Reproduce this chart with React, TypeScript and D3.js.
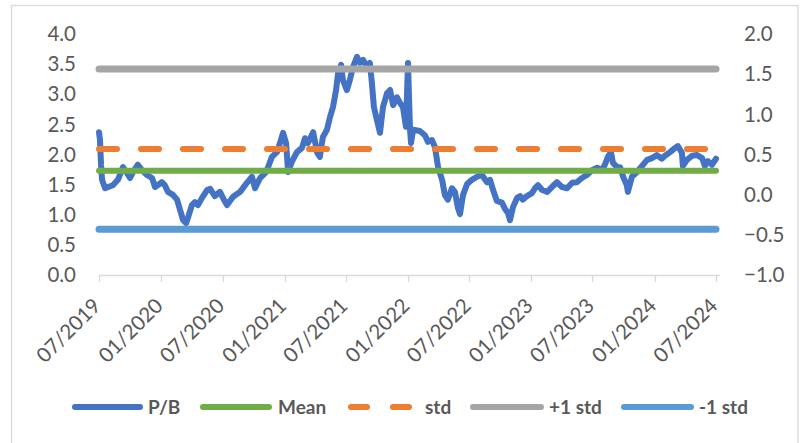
import React from 'react';
import * as d3 from 'd3';

const pbDates = [
  "2019-07-01","2019-07-04","2019-07-07","2019-07-10","2019-07-19","2019-07-28","2019-08-11","2019-08-26","2019-09-10","2019-09-22",
  "2019-10-01","2019-10-10","2019-10-24","2019-11-05","2019-11-20","2019-12-05","2019-12-14","2020-01-03","2020-01-12","2020-01-21",
  "2020-02-05","2020-02-17","2020-02-26","2020-03-06","2020-03-15","2020-03-21","2020-04-01","2020-04-10","2020-04-19","2020-05-01",
  "2020-05-16","2020-05-25","2020-06-08","2020-06-23","2020-07-05","2020-07-14","2020-08-01","2020-08-22","2020-09-11","2020-09-26",
  "2020-10-05","2020-10-20","2020-11-04","2020-11-12","2020-11-24","2020-12-09","2020-12-18","2020-12-27","2021-01-05","2021-01-11",
  "2021-01-22","2021-02-06","2021-02-21","2021-03-02","2021-03-11","2021-03-26","2021-04-07","2021-04-15","2021-04-24","2021-05-06",
  "2021-05-15","2021-05-24","2021-06-02","2021-06-08","2021-06-17","2021-06-22","2021-07-04","2021-07-13","2021-07-22","2021-08-03",
  "2021-08-12","2021-08-21","2021-09-02","2021-09-10","2021-09-16","2021-09-22","2021-10-01","2021-10-10","2021-10-19","2021-10-31",
  "2021-11-09","2021-11-18","2021-11-29","2021-12-08","2021-12-17","2021-12-26","2022-01-01","2022-01-07","2022-01-10","2022-01-16",
  "2022-02-05","2022-02-20","2022-03-01","2022-03-13","2022-03-22","2022-03-31","2022-04-12","2022-04-20","2022-04-29","2022-05-11",
  "2022-05-20","2022-05-29","2022-06-04","2022-06-13","2022-06-25","2022-07-09","2022-07-24","2022-08-08","2022-08-23","2022-09-01",
  "2022-09-10","2022-09-21","2022-10-06","2022-10-15","2022-10-24","2022-10-30","2022-11-08","2022-11-20","2022-11-29","2022-12-07",
  "2022-12-19","2023-01-03","2023-01-12","2023-01-21","2023-02-02","2023-02-17","2023-03-03","2023-03-18","2023-04-02","2023-04-17",
  "2023-05-02","2023-05-16","2023-05-31","2023-06-15","2023-06-30","2023-07-15","2023-07-29","2023-08-07","2023-08-16","2023-08-25",
  "2023-08-31","2023-09-12","2023-09-21","2023-09-30","2023-10-11","2023-10-14","2023-10-26","2023-11-10","2023-11-25","2023-12-10",
  "2023-12-24","2024-01-08","2024-01-23","2024-02-01","2024-02-16","2024-03-02","2024-03-10","2024-03-22","2024-03-25","2024-04-06",
  "2024-04-21","2024-05-06","2024-05-21","2024-05-29","2024-06-07","2024-06-19","2024-07-01"
];

const pbValues = [
  2.37,2.24,1.83,1.58,1.44,1.46,1.49,1.58,1.79,1.69,
  1.61,1.71,1.83,1.74,1.66,1.61,1.46,1.54,1.49,1.38,
  1.33,1.25,1.08,0.91,0.86,0.96,1.16,1.21,1.16,1.28,
  1.41,1.43,1.31,1.38,1.25,1.16,1.30,1.38,1.53,1.63,
  1.44,1.61,1.69,1.78,1.96,2.04,2.19,2.36,2.19,1.71,
  1.88,2.04,2.11,2.27,2.19,2.37,2.03,1.96,2.29,2.41,
  2.62,2.79,3.07,3.35,3.49,3.24,3.07,3.24,3.45,3.62,
  3.52,3.57,3.45,3.52,3.19,2.79,2.57,2.36,2.79,3.02,
  3.07,2.82,2.95,2.86,2.79,2.46,3.52,2.41,2.19,2.41,
  2.39,2.32,2.21,2.24,2.12,1.79,1.58,1.33,1.25,1.44,
  1.38,1.11,1.01,1.33,1.51,1.58,1.63,1.66,1.54,1.58,
  1.41,1.23,1.20,1.10,1.03,0.91,1.13,1.28,1.31,1.25,
  1.31,1.36,1.44,1.49,1.41,1.38,1.46,1.54,1.46,1.44,
  1.53,1.54,1.61,1.66,1.74,1.78,1.74,1.83,1.96,2.04,
  1.86,1.79,1.79,1.63,1.49,1.38,1.63,1.71,1.81,1.91,
  1.94,1.99,1.93,1.98,2.04,2.11,2.14,2.03,1.81,1.91,
  1.98,1.99,1.94,1.81,1.89,1.83,1.93
];

const leftTicks = [0, 0.5, 1, 1.5, 2, 2.5, 3, 3.5, 4];
const rightTicks = [-1, -0.5, 0, 0.5, 1, 1.5, 2];
const meanLevel = 1.73;      // primary axis
const stdLevel = 0.57;       // secondary axis
const plusStdLevel = 3.42;   // primary axis
const minusStdLevel = 0.76;  // primary axis
const seriesNames = ["P/B", "Mean", "std", "+1 std", "-1 std"];
const seriesColors = ["#4472C4", "#70AD47", "#ED7D31", "#A5A5A5", "#5B9BD5"];

export default function App() {
  const W = 806, H = 443;
  const font = "Lato, 'Open Sans', sans-serif";
  const textColor = "#595959";
  const parse = d3.timeParse("%Y-%m-%d");
  const start = parse("2019-07-01") as Date;
  const end = parse("2024-07-01") as Date;
  const x = d3.scaleTime().domain([start, end]).range([99, 716]);
  const yL = d3.scaleLinear().domain([0, 4]).range([275, 34]);
  const yR = d3.scaleLinear().domain([-1, 2]).range([275, 34]);
  const data = pbDates.map((d, i) => ({ date: parse(d) as Date, v: pbValues[i] }));
  const line = d3.line<{ date: Date; v: number }>().x(d => x(d.date)).y(d => yL(d.v));
  const xTicks = x.ticks(d3.timeMonth.every(6) as any);
  const fmt = d3.timeFormat("%m/%Y");
  const fmtY = d3.format(".1f");
  const x0 = x(start), x1 = x(end);

  const hLines = [
    { y: yL(meanLevel), color: seriesColors[1], w: 6, dash: undefined as string | undefined },
    { y: yR(stdLevel), color: seriesColors[2], w: 6, dash: "18,24" },
    { y: yL(plusStdLevel), color: seriesColors[3], w: 7, dash: undefined },
    { y: yL(minusStdLevel), color: seriesColors[4], w: 7, dash: undefined },
  ];

  const legendY = 407;
  const legendItems = [
    { lx: 72, lw: 71, tx: 148 },
    { lx: 200, lw: 72, tx: 278 },
    { lx: 348, lw: 64, tx: 425 },
    { lx: 470, lw: 74, tx: 549 },
    { lx: 621, lw: 73, tx: 699 },
  ];

  return (
    <svg width={W} height={H} style={{ position: 'absolute', left: 0, top: 0, background: '#fff' }}
      fontFamily={font}>
      <rect x={0} y={0} width={W} height={H} fill="#fff" />
      <rect x={11.5} y={5.5} width={786.5} height={460} fill="none" stroke="#D9D9D9" strokeWidth={1.3} />
      {/* bottom axis */}
      <line x1={x0} x2={x1 + 4} y1={275.5} y2={275.5} stroke="#D9D9D9" strokeWidth={1.3} />
      {xTicks.map((t, i) => (
        <line key={'t' + i} x1={Math.round(x(t)) + 0.5} x2={Math.round(x(t)) + 0.5} y1={275} y2={282} stroke="#D9D9D9" strokeWidth={1.3} />
      ))}
      {xTicks.map((t, i) => (
        <text key={'xl' + i} transform={`translate(${x(t) + 3},307) rotate(-45)`} textAnchor="end"
          fontSize={20.5} fill={textColor}>{fmt(t)}</text>
      ))}
      {leftTicks.map((v, i) => (
        <text key={'yl' + i} x={76} y={yL(v)} dy="0.35em" textAnchor="end" fontSize={20.5} fill={textColor}>{fmtY(v)}</text>
      ))}
      {rightTicks.map((v, i) => (
        <text key={'yr' + i} x={744} y={yR(v)} dy="0.35em" textAnchor="start" fontSize={20.5} fill={textColor}>{fmtY(v)}</text>
      ))}
      {/* P/B series */}
      <path d={line(data) || ''} fill="none" stroke={seriesColors[0]} strokeWidth={6} strokeLinejoin="round" strokeLinecap="round" />
      {hLines.map((h, i) => (
        <line key={'h' + i} x1={x0} x2={x1} y1={h.y} y2={h.y} stroke={h.color} strokeWidth={h.w}
          strokeLinecap="round" strokeDasharray={h.dash} />
      ))}
      {/* legend */}
      {legendItems.map((l, i) => (
        <g key={'lg' + i}>
          <line x1={l.lx + 3} x2={l.lx + l.lw - 3} y1={legendY} y2={legendY} stroke={seriesColors[i]} strokeWidth={6}
            strokeLinecap="round" strokeDasharray={i === 2 ? "16,26" : undefined} />
          <text x={l.tx} y={legendY} dy="0.35em" fontSize={19} fontWeight="bold" fill={textColor}>{seriesNames[i]}</text>
        </g>
      ))}
    </svg>
  );
}
